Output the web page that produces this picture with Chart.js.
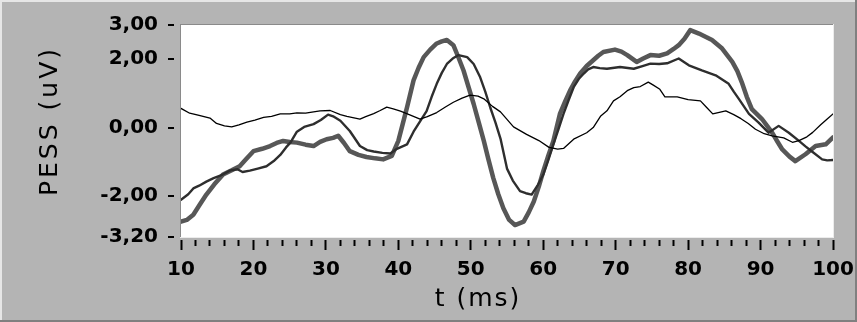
<!DOCTYPE html>
<html>
<head>
<meta charset="utf-8">
<script src="https://cdn.jsdelivr.net/npm/chart.js@4.4.1/dist/chart.umd.min.js"></script>
<style>
  html, body { margin: 0; padding: 0; background: #b4b4b4; }
  #wrap { width: 857px; height: 322px; }
</style>
</head>
<body>
<div id="wrap"><canvas id="grafico" width="857" height="322"></canvas></div>
<script>
// ejes
const yTicks = [3, 2, 0, -2, -3.2];
const xTicks = [10, 20, 30, 40, 50, 60, 70, 80, 90, 100];
const xPaso = 2; // marcas menores cada 2 ms
const yTitle = "PESS (uV)";
const xTitle = "t (ms)";

// linea fina (negra)
const finaX = [10, 11.2, 12.5, 14, 14.9, 16, 17, 18, 19.1, 20.2, 21.4, 22.5, 23.7, 25, 26, 27.2, 28.3, 29.2, 30.6, 32, 32.9, 34.7, 35.5, 36.6, 37.5, 38.4, 39.3, 40.3, 41.5, 43, 44, 45.3, 46.5, 47.6, 48.8, 49.9, 51, 51.8, 53, 54.1, 55.9, 57.7, 59.4, 60.8, 62, 62.8, 64.2, 66, 66.9, 67.9, 68.8, 69.7, 70.6, 71.6, 72.5, 73.4, 74.5, 75.2, 76.1, 76.8, 78.5, 80, 81.7, 82.5, 83.4, 85.2, 86.3, 87.3, 88.3, 89.3, 90.5, 91.6, 93.2, 94.4, 95.3, 96.4, 97.2, 98.3, 99.2, 100];
const finaY = [0.56, 0.42, 0.36, 0.28, 0.12, 0.05, 0.02, 0.08, 0.16, 0.22, 0.30, 0.33, 0.40, 0.40, 0.43, 0.42, 0.46, 0.49, 0.50, 0.38, 0.33, 0.25, 0.32, 0.41, 0.50, 0.60, 0.55, 0.48, 0.38, 0.25, 0.32, 0.44, 0.60, 0.74, 0.86, 0.95, 0.92, 0.84, 0.62, 0.46, 0.02, -0.20, -0.38, -0.58, -0.63, -0.61, -0.34, -0.15, 0.0, 0.33, 0.49, 0.78, 0.90, 1.08, 1.17, 1.20, 1.33, 1.24, 1.12, 0.90, 0.90, 0.82, 0.78, 0.60, 0.40, 0.49, 0.38, 0.26, 0.12, -0.05, -0.18, -0.24, -0.30, -0.43, -0.38, -0.27, -0.14, 0.08, 0.25, 0.40];

// linea media (gris oscuro)
const mediaX = [10, 11, 11.7, 12.5, 13.5, 14.5, 15.5, 16.8, 17.8, 18.5, 19.5, 20.6, 21.8, 22.8, 23.7, 24.5, 25.1, 26, 27, 28.3, 29.3, 30.3, 31, 32, 33.3, 34.7, 35.7, 36.6, 37.8, 38.9, 39.8, 41.2, 42.1, 43, 43.9, 44.6, 45.3, 46, 46.7, 47.5, 48.3, 49.5, 50.4, 51.3, 52, 52.7, 53.4, 54.1, 55, 55.8, 56.8, 57.6, 58.4, 59.2, 60, 60.7, 61.4, 62.1, 62.8, 63.5, 64.2, 64.9, 65.6, 66.2, 66.9, 67.8, 68.8, 70.6, 72.5, 73.7, 74.8, 76, 77.1, 78.7, 80.1, 81.9, 83.8, 85.6, 86.3, 87, 88.4, 89.7, 91.1, 92.5, 93.9, 95.3, 96.2, 97.1, 98.5, 99.2, 100];
const mediaY = [-2.11, -1.95, -1.78, -1.70, -1.58, -1.48, -1.40, -1.25, -1.22, -1.30, -1.26, -1.20, -1.13, -0.98, -0.80, -0.58, -0.44, -0.12, 0.02, 0.10, 0.22, 0.38, 0.33, 0.20, -0.10, -0.54, -0.66, -0.70, -0.74, -0.76, -0.62, -0.49, -0.12, 0.18, 0.48, 0.90, 1.28, 1.60, 1.86, 2.02, 2.12, 2.06, 1.86, 1.47, 1.05, 0.58, 0.15, -0.32, -1.20, -1.55, -1.86, -1.92, -1.96, -1.70, -1.38, -0.95, -0.49, -0.05, 0.40, 0.80, 1.18, 1.42, 1.58, 1.70, 1.77, 1.74, 1.72, 1.77, 1.72, 1.80, 1.87, 1.86, 1.88, 2.02, 1.82, 1.67, 1.53, 1.28, 1.05, 0.84, 0.40, 0.15, -0.15, 0.05, -0.15, -0.39, -0.55, -0.70, -0.93, -0.96, -0.95];

// linea gruesa (gris)
const gruesaX = [10, 10.8, 11.7, 12.6, 13.5, 14.6, 15.8, 17, 18.1, 19, 20, 21.2, 22.3, 23.2, 24.1, 25, 26, 27.2, 28.3, 29.2, 30.1, 31, 31.7, 32.5, 33.3, 34.5, 35.6, 36.8, 37.9, 39.1, 40, 40.6, 41.2, 42.1, 42.8, 43.5, 44.4, 45.3, 46, 46.7, 47.6, 48.3, 49, 49.7, 50.4, 51.1, 51.8, 52.4, 53.1, 53.8, 54.5, 55.3, 56.1, 57.3, 58, 58.7, 59.4, 60, 60.7, 61.4, 62.3, 63, 63.7, 64.4, 65.1, 66, 66.9, 67.6, 68.3, 69.9, 70.8, 71.6, 72.9, 73.8, 74.8, 76, 77.1, 78, 78.7, 79.5, 80.3, 81.5, 83.3, 84.7, 86.1, 86.8, 87.4, 88.1, 88.8, 90.2, 91.6, 92.3, 93, 94, 94.8, 96.2, 97.6, 99, 100];
const gruesaY = [-2.75, -2.70, -2.55, -2.25, -1.96, -1.66, -1.37, -1.25, -1.13, -0.92, -0.69, -0.62, -0.54, -0.45, -0.39, -0.42, -0.44, -0.50, -0.54, -0.42, -0.34, -0.30, -0.24, -0.45, -0.69, -0.80, -0.86, -0.90, -0.93, -0.83, -0.39, 0.10, 0.59, 1.38, 1.75, 2.06, 2.28, 2.46, 2.52, 2.56, 2.41, 2.05, 1.67, 1.18, 0.69, 0.15, -0.39, -0.90, -1.47, -1.95, -2.36, -2.70, -2.85, -2.75, -2.48, -2.16, -1.72, -1.28, -0.82, -0.39, 0.40, 0.75, 1.08, 1.35, 1.58, 1.80, 1.97, 2.10, 2.21, 2.28, 2.22, 2.12, 1.92, 2.02, 2.12, 2.10, 2.17, 2.30, 2.41, 2.60, 2.85, 2.75, 2.56, 2.31, 1.92, 1.65, 1.33, 0.90, 0.54, 0.25, -0.15, -0.40, -0.64, -0.85, -0.98, -0.78, -0.54, -0.49, -0.29];

function puntos(xs, ys) {
  return xs.map((x, i) => ({ x: x, y: ys[i] }));
}
function coma(v) {
  return v.toFixed(2).replace(".", ",");
}
function esMayor(v) {
  return xTicks.includes(v);
}

// fondo, marcas del eje y y titulos
const marco = {
  id: "marco",
  beforeDraw(chart) {
    const ctx = chart.ctx;
    const a = chart.chartArea;
    ctx.save();
    ctx.fillStyle = "#b4b4b4";
    ctx.fillRect(0, 0, chart.width, chart.height);
    ctx.fillStyle = "#e6e6e6";
    ctx.fillRect(0, 0, chart.width, 2);
    ctx.fillRect(0, 0, 2, chart.height);
    ctx.fillStyle = "#808080";
    ctx.fillRect(0, chart.height - 2, chart.width, 2);
    ctx.fillRect(chart.width - 2, 0, 2, chart.height);
    // area blanca con borde hundido
    ctx.fillStyle = "#ffffff";
    ctx.fillRect(a.left, a.top, a.right - a.left, a.bottom - a.top);
    ctx.fillStyle = "#8a8a8a";
    ctx.fillRect(a.left - 1, a.top - 1, a.right - a.left + 1, 1);
    ctx.fillRect(a.left - 1, a.top - 1, 1, a.bottom - a.top + 1);
    ctx.fillStyle = "#ececec";
    ctx.fillRect(a.right, a.top - 1, 1, a.bottom - a.top + 2);
    ctx.fillRect(a.left - 1, a.bottom, a.right - a.left + 2, 1);
    ctx.restore();
  },
  afterDraw(chart) {
    const ctx = chart.ctx;
    const a = chart.chartArea;
    const ys = chart.scales.y;
    ctx.save();
    ctx.fillStyle = "#000000";
    yTicks.forEach((v) => {
      const py = Math.round(ys.getPixelForValue(v));
      ctx.fillRect(a.left - 13, py - 1, 6, 2);
    });
    ctx.textAlign = "center";
    ctx.textBaseline = "middle";
    ctx.font = "25px 'DejaVu Sans'";
    ctx.letterSpacing = "2px";
    ctx.fillText(xTitle, 478, 299);
    ctx.letterSpacing = "3px";
    ctx.translate(50, 121);
    ctx.rotate(-Math.PI / 2);
    ctx.fillText(yTitle, 0, 0);
    ctx.restore();
  },
};

new Chart(document.getElementById("grafico"), {
  type: "line",
  data: {
    datasets: [
      { label: "fina", data: puntos(finaX, finaY), borderColor: "#000000", borderWidth: 1.3, order: 0 },
      { label: "media", data: puntos(mediaX, mediaY), borderColor: "#2e2e2e", borderWidth: 2.4, order: 1 },
      { label: "gruesa", data: puntos(gruesaX, gruesaY), borderColor: "#575757", borderWidth: 4.5, order: 2 },
    ],
  },
  options: {
    responsive: false,
    animation: false,
    layout: { padding: { top: 25, right: 24, left: 0, bottom: 0 } },
    elements: { point: { radius: 0 }, line: { tension: 0, borderJoinStyle: "round", borderCapStyle: "round" } },
    plugins: { legend: { display: false }, tooltip: { enabled: false } },
    scales: {
      x: {
        type: "linear",
        min: 10,
        max: 100,
        afterBuildTicks: (s) => {
          const t = [];
          for (let v = xTicks[0]; v <= xTicks[xTicks.length - 1]; v += xPaso) t.push({ value: v });
          s.ticks = t;
        },
        afterFit: (s) => { s.height = 85; s.paddingLeft = 0; s.paddingRight = 0; },
        grid: {
          display: true,
          drawOnChartArea: false,
          drawTicks: true,
          tickLength: 13,
          tickColor: "#000000",
          tickWidth: 2,
          tickBorderDash: (c) => (esMayor(c.tick.value) ? [0, 3, 10, 100] : [0, 3, 6, 100]),
        },
        border: { display: false },
        ticks: {
          color: "#000",
          padding: 8,
          maxRotation: 0,
          autoSkip: false,
          callback: (v) => (esMayor(v) ? String(v) : ""),
          font: { family: "DejaVu Sans", size: 20, weight: "bold" },
        },
      },
      y: {
        type: "linear",
        min: -3.2,
        max: 3,
        afterBuildTicks: (s) => { s.ticks = yTicks.map((v) => ({ value: v })); },
        afterFit: (s) => { s.width = 181; s.paddingTop = 0; s.paddingBottom = 0; },
        grid: { display: false, drawTicks: false },
        border: { display: false },
        ticks: { color: "#000", padding: 23, callback: (v) => coma(v), font: { family: "DejaVu Sans", size: 20, weight: "bold" } },
      },
    },
  },
  plugins: [marco],
});
</script>
</body>
</html>
